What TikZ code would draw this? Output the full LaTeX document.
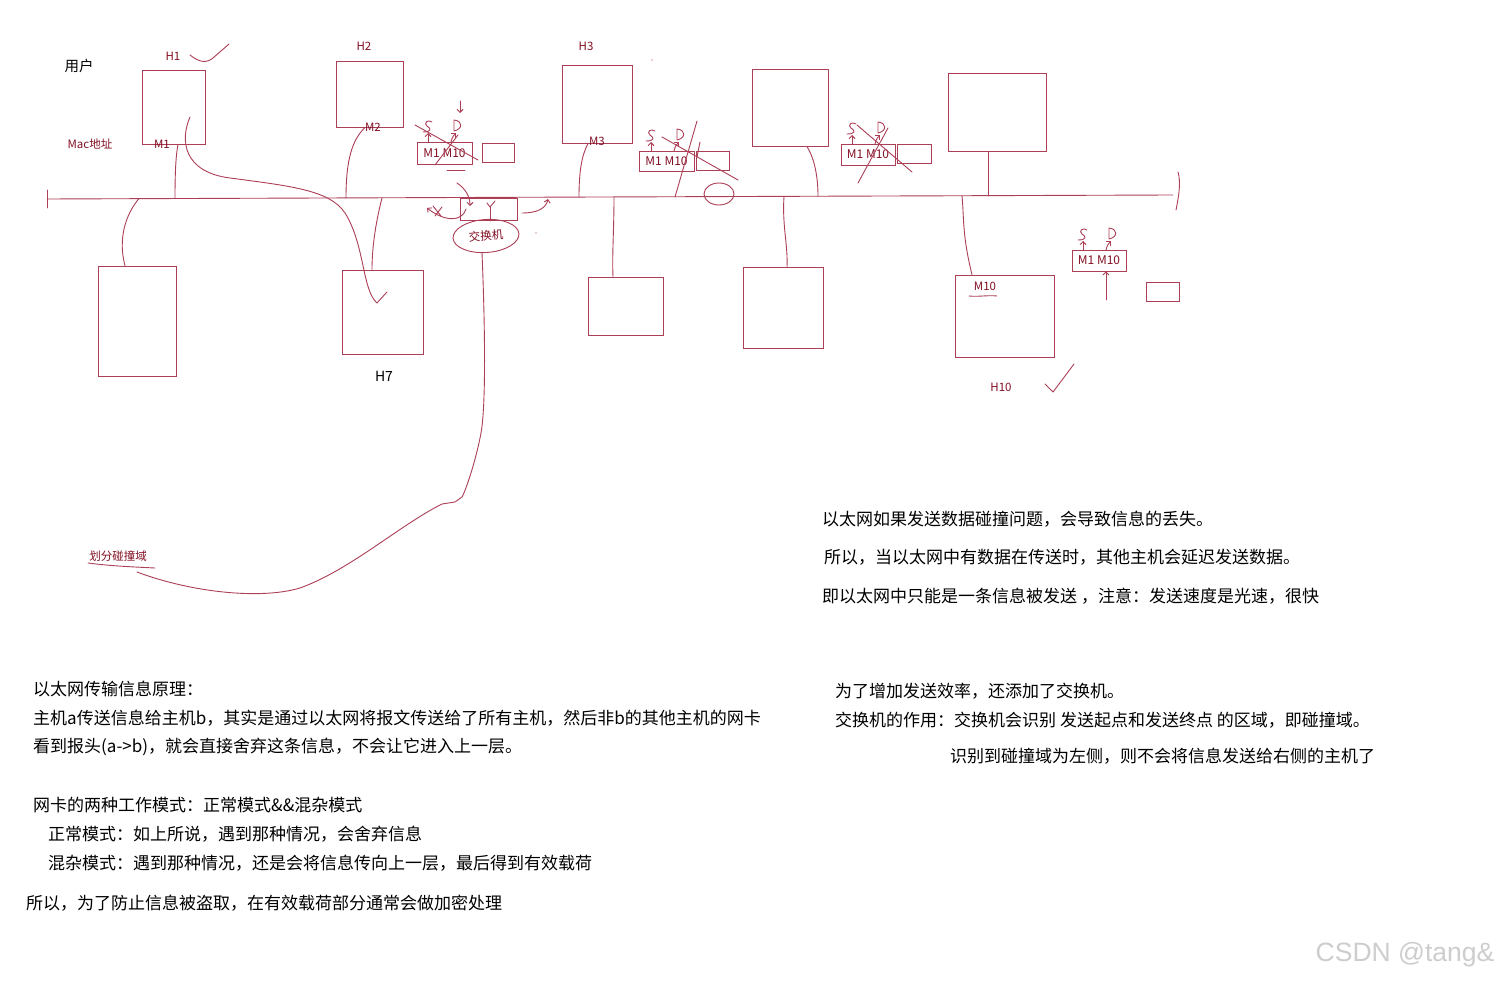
\documentclass[tikz,border=0pt]{standalone}
\usepackage{fontspec}
\setmainfont{Noto Sans CJK SC}
\newfontfamily\wmfont{Liberation Sans}
\usetikzlibrary{shapes.geometric,arrows.meta}
\definecolor{ink}{RGB}{172,62,86}
\definecolor{labred}{RGB}{130,15,35}
\definecolor{wmgray}{RGB}{205,205,205}
\tikzset{
  wire/.style={draw=ink,line width=0.9pt,line cap=round,line join=round},
  arr/.style={-{Straight Barb[length=3pt,width=6pt]}},
  hostbox/.style={draw=ink,line width=0.9pt,inner sep=0pt},
  mactab/.style={draw=ink,line width=0.9pt,inner sep=0pt,text=labred,font=\fontsize{12}{14}\selectfont},
  lab/.style={inner sep=0pt,text=labred,font=\fontsize{11.5}{13}\selectfont},
  body/.style={anchor=west,inner sep=0pt,text=black,font=\fontsize{17}{20}\selectfont},
  sdmark/.pic={
    \draw[wire,arr] (0,0) -- (0,-9);
    \draw[wire] (4,-20) .. controls (0,-23) and (-5,-19) .. (-1,-16) .. controls (4,-13) and (3,-10) .. (-5,-10);
    \draw[wire] (26,-11) -- (26,-22) .. controls (35,-21) and (35,-13) .. (26,-11);
    \draw[wire,arr] (23,0) .. controls (24,-5) and (26,-7) .. (28,-9);
  }
}
\begin{document}
\begin{tikzpicture}[x=1pt,y=-1pt]
\useasboundingbox[fill=white] (0,0) rectangle (1499,981);

% ---------- bus ----------
\coordinate (busL) at (47,199);
\coordinate (busM) at (600,197);
\coordinate (busR) at (1173,195);
\draw[wire] (busL) -- (busM) -- (busR);
\draw[wire] (47,190) -- (47,208);
\draw[wire] (1178,172) .. controls (1181,182) and (1179,195) .. (1176,210);

% ---------- hosts ----------
\node[hostbox,minimum width=63pt,minimum height=74pt] (h1) at (173.5,107) {};
\node[hostbox,minimum width=67pt,minimum height=66pt] (h2) at (369.5,94) {};
\node[hostbox,minimum width=70pt,minimum height=78pt] (h3) at (597,104) {};
\node[hostbox,minimum width=76pt,minimum height=77pt] (h4) at (790,107.5) {};
\node[hostbox,minimum width=98pt,minimum height=78pt] (h5) at (997,112) {};
\node[hostbox,minimum width=78pt,minimum height=110pt] (l1) at (137,321) {};
\node[hostbox,minimum width=81pt,minimum height=84pt] (h7) at (382.5,312) {};
\node[hostbox,minimum width=75pt,minimum height=58pt] (l3) at (625.5,306) {};
\node[hostbox,minimum width=80pt,minimum height=81pt] (l4) at (783,307.5) {};
\node[hostbox,minimum width=99pt,minimum height=82pt] (h10) at (1004.5,316) {};
\node[hostbox,minimum width=57pt,minimum height=22pt] (swbox) at (488.5,209) {};

% bus taps
\coordinate (b1) at (175,198.5);
\coordinate (bL1) at (139,198.5);
\coordinate (b2) at (346,198);
\coordinate (b7) at (382,198);
\coordinate (b3) at (579,197);
\coordinate (bL3) at (614,197);
\coordinate (bL4) at (784,196.5);
\coordinate (b4) at (818,196.5);
\coordinate (b10) at (962,196);
\coordinate (b5) at (988,196);

\draw[wire] (b1) .. controls (175,170) and (176,155) .. ([xshift=4.5pt]h1.south);
\draw[wire] (bL1) .. controls (125,215) and (118,240) .. ([xshift=-12pt]l1.north);
\draw[wire] (b2) .. controls (346,160) and (352,140) .. ([xshift=-4.5pt]h2.south);
\draw[wire] (b7) .. controls (375,225) and (372,250) .. ([xshift=-10.5pt]h7.north);
\draw[wire] (b3) .. controls (579,170) and (582,155) .. ([xshift=-9pt]h3.south);
\draw[wire] (bL3) .. controls (614,230) and (612,255) .. ([xshift=-12.5pt]l3.north);
\draw[wire] (bL4) .. controls (782,225) and (788,245) .. ([xshift=4pt]l4.north);
\draw[wire] (b4) .. controls (818,175) and (814,158) .. ([xshift=17pt]h4.south);
\draw[wire] (b5) -- ([xshift=-9pt]h5.south);
\draw[wire] (b10) .. controls (964,215) and (962,235) .. ([xshift=-32.5pt]h10.north);

% ---------- labels ----------
\node[lab] (lH1) at (173,56) {H1};
\node[lab] (lH2) at (364,46) {H2};
\node[lab] (lH3) at (586,46) {H3};
\node[lab,text=black,font=\fontsize{14.5}{16}\selectfont] (lUser) at (79,66) {用户};
\node[lab] (lMac) at (90,144) {Mac地址};
\node[lab] (lM1) at (162,144) {M1};
\node[lab] (lM2) at (373,127) {M2};
\node[lab] (lM3) at (597,141) {M3};
\node[lab,text=black,font=\fontsize{14}{16}\selectfont] (lH7) at (384,376) {H7};
\node[lab] (lH10) at (1001,387) {H10};
\node[lab] (lM10) at (985,286) {M10};
\node[lab] (lDiv) at (118,556) {划分碰撞域};

% check marks / underlines
\draw[wire] (190,55) .. controls (200,63) and (207,63) .. (213,58) -- (229,44);
\draw[wire] (1045,384) -- (1053,392) -- (1074,364);
\draw[wire] (969,296) .. controls (978,297) and (988,295) .. (997,296);
\draw[wire] (88,563) .. controls (110,566) and (135,567) .. (155,568);

% H1 -> H7 curve
\coordinate (pA) at (190,117);
\coordinate (pB) at (377,303);
\draw[wire] (pA) .. controls (180,140) and (183,172) .. (230,178)
  .. controls (290,186) and (330,190) .. (345,213)
  .. controls (365,245) and (362,290) .. (pB) -- (387,292);

% ---------- switch ----------
\node[ellipse,draw=ink,line width=0.9pt,inner sep=0pt,minimum width=66pt,minimum height=33pt,
      text=labred,font=\fontsize{11.5}{13}\selectfont,rotate=4] (sw) at (486,236) {交换机};
\draw[wire] (490,207) -- (490,221);
\draw[wire] (487,203) -- (490,207) -- (495,201);
\draw[wire,arr] (457,183) .. controls (466,189) and (470,197) .. (470,206);
\draw[wire,arr] (466,209) .. controls (462,222) and (445,222) .. (427,208);
\draw[wire] (433,206) -- (441,216);
\draw[wire] (435,216) -- (442,207);
\draw[wire,arr] (522,213) .. controls (538,213) and (546,208) .. (548,199);
\fill[ink] (536,233) circle (0.7pt);
\fill[ink] (652,60) circle (0.6pt);

% collision-domain curve
\coordinate (cS) at (482,253);
\coordinate (cE) at (137,572);
\draw[wire] (cS) .. controls (484,300) and (487,400) .. (481,433)
  .. controls (476,460) and (466,490) .. (462,497) -- (455,502) -- (442,504)
  .. controls (400,525) and (350,570) .. (300,588)
  .. controls (260,600) and (190,592) .. (cE);

% ---------- MAC tables ----------
\node[mactab,minimum width=55pt,minimum height=22pt] (t1) at (444.5,153) {M1 M10};
\node[mactab,minimum width=32pt,minimum height=19pt] (r1) at (498,152.5) {};
\node[mactab,minimum width=55pt,minimum height=20pt] (t2) at (666.5,161) {M1 M10};
\node[mactab,minimum width=33pt,minimum height=19pt] (r2) at (712.5,160.5) {};
\node[mactab,minimum width=54pt,minimum height=21pt] (t3) at (868,154.5) {M1 M10};
\node[mactab,minimum width=34pt,minimum height=19pt] (r3) at (914,153.5) {};
\node[mactab,minimum width=54pt,minimum height=21pt] (t4) at (1099,260.5) {M1 M10};
\node[mactab,minimum width=33pt,minimum height=19pt] (r4) at (1162.5,291.5) {};

\pic at (428,142) {sdmark};
\pic at (651,151) {sdmark};
\pic at (852,144) {sdmark};
\pic at (1083,250) {sdmark};

% table 1 marks
\draw[wire,arr] (460,101) -- (460,113);
\draw[wire] (415,125) -- (478,160);
\draw[wire] (435,165) -- (458,135);
\draw[wire] (447,170) -- (465,170);
% table 2 marks
\draw[wire] (662,137) -- (738,180);
\draw[wire] (697,121) -- (675,197);
\draw[wire] (700,142) -- (697,157);
\draw[wire] (719,194) ellipse [x radius=15, y radius=11];
% table 3 marks
\draw[wire] (857,125) -- (912,172);
\draw[wire] (888,128) -- (858,183);
% table 4 arrow
\coordinate (upS) at (1106,300);
\draw[wire,arr] (upS) -- (t4.south -| upS);

% ---------- text blocks ----------
\node[body] (r1t) at (822,519) {以太网如果发送数据碰撞问题，会导致信息的丢失。};
\node[body] (r2t) at (824,557) {所以，当以太网中有数据在传送时，其他主机会延迟发送数据。};
\node[body] (r3t) at (822,596) {即以太网中只能是一条信息被发送 ，注意：发送速度是光速，很快};

\node[body] (a1) at (33,689) {以太网传输信息原理：};
\node[body] (a2) at (33,718) {主机a传送信息给主机b，其实是通过以太网将报文传送给了所有主机，然后非b的其他主机的网卡};
\node[body] (a3) at (33,747) {看到报头(a->b)，就会直接舍弃这条信息，不会让它进入上一层。};
\node[body] (a4) at (33,805) {网卡的两种工作模式：正常模式\&\&混杂模式};
\node[body] (a5) at (48,834) {正常模式：如上所说，遇到那种情况，会舍弃信息};
\node[body] (a6) at (48,863) {混杂模式：遇到那种情况，还是会将信息传向上一层，最后得到有效载荷};
\node[body] (a7) at (26,903) {所以，为了防止信息被盗取，在有效载荷部分通常会做加密处理};

\node[body] (s1) at (835,691) {为了增加发送效率，还添加了交换机。};
\node[body] (s2) at (835,720) {交换机的作用：交换机会识别 发送起点和发送终点 的区域，即碰撞域。};
\node[body] (s3) at (950,756) {识别到碰撞域为左侧，则不会将信息发送给右侧的主机了};

\node[inner sep=0pt,text=wmgray,font=\wmfont\fontsize{26.5}{29}\selectfont] (wm) at (1405,955) {CSDN @tang\&};
\end{tikzpicture}
\end{document}
